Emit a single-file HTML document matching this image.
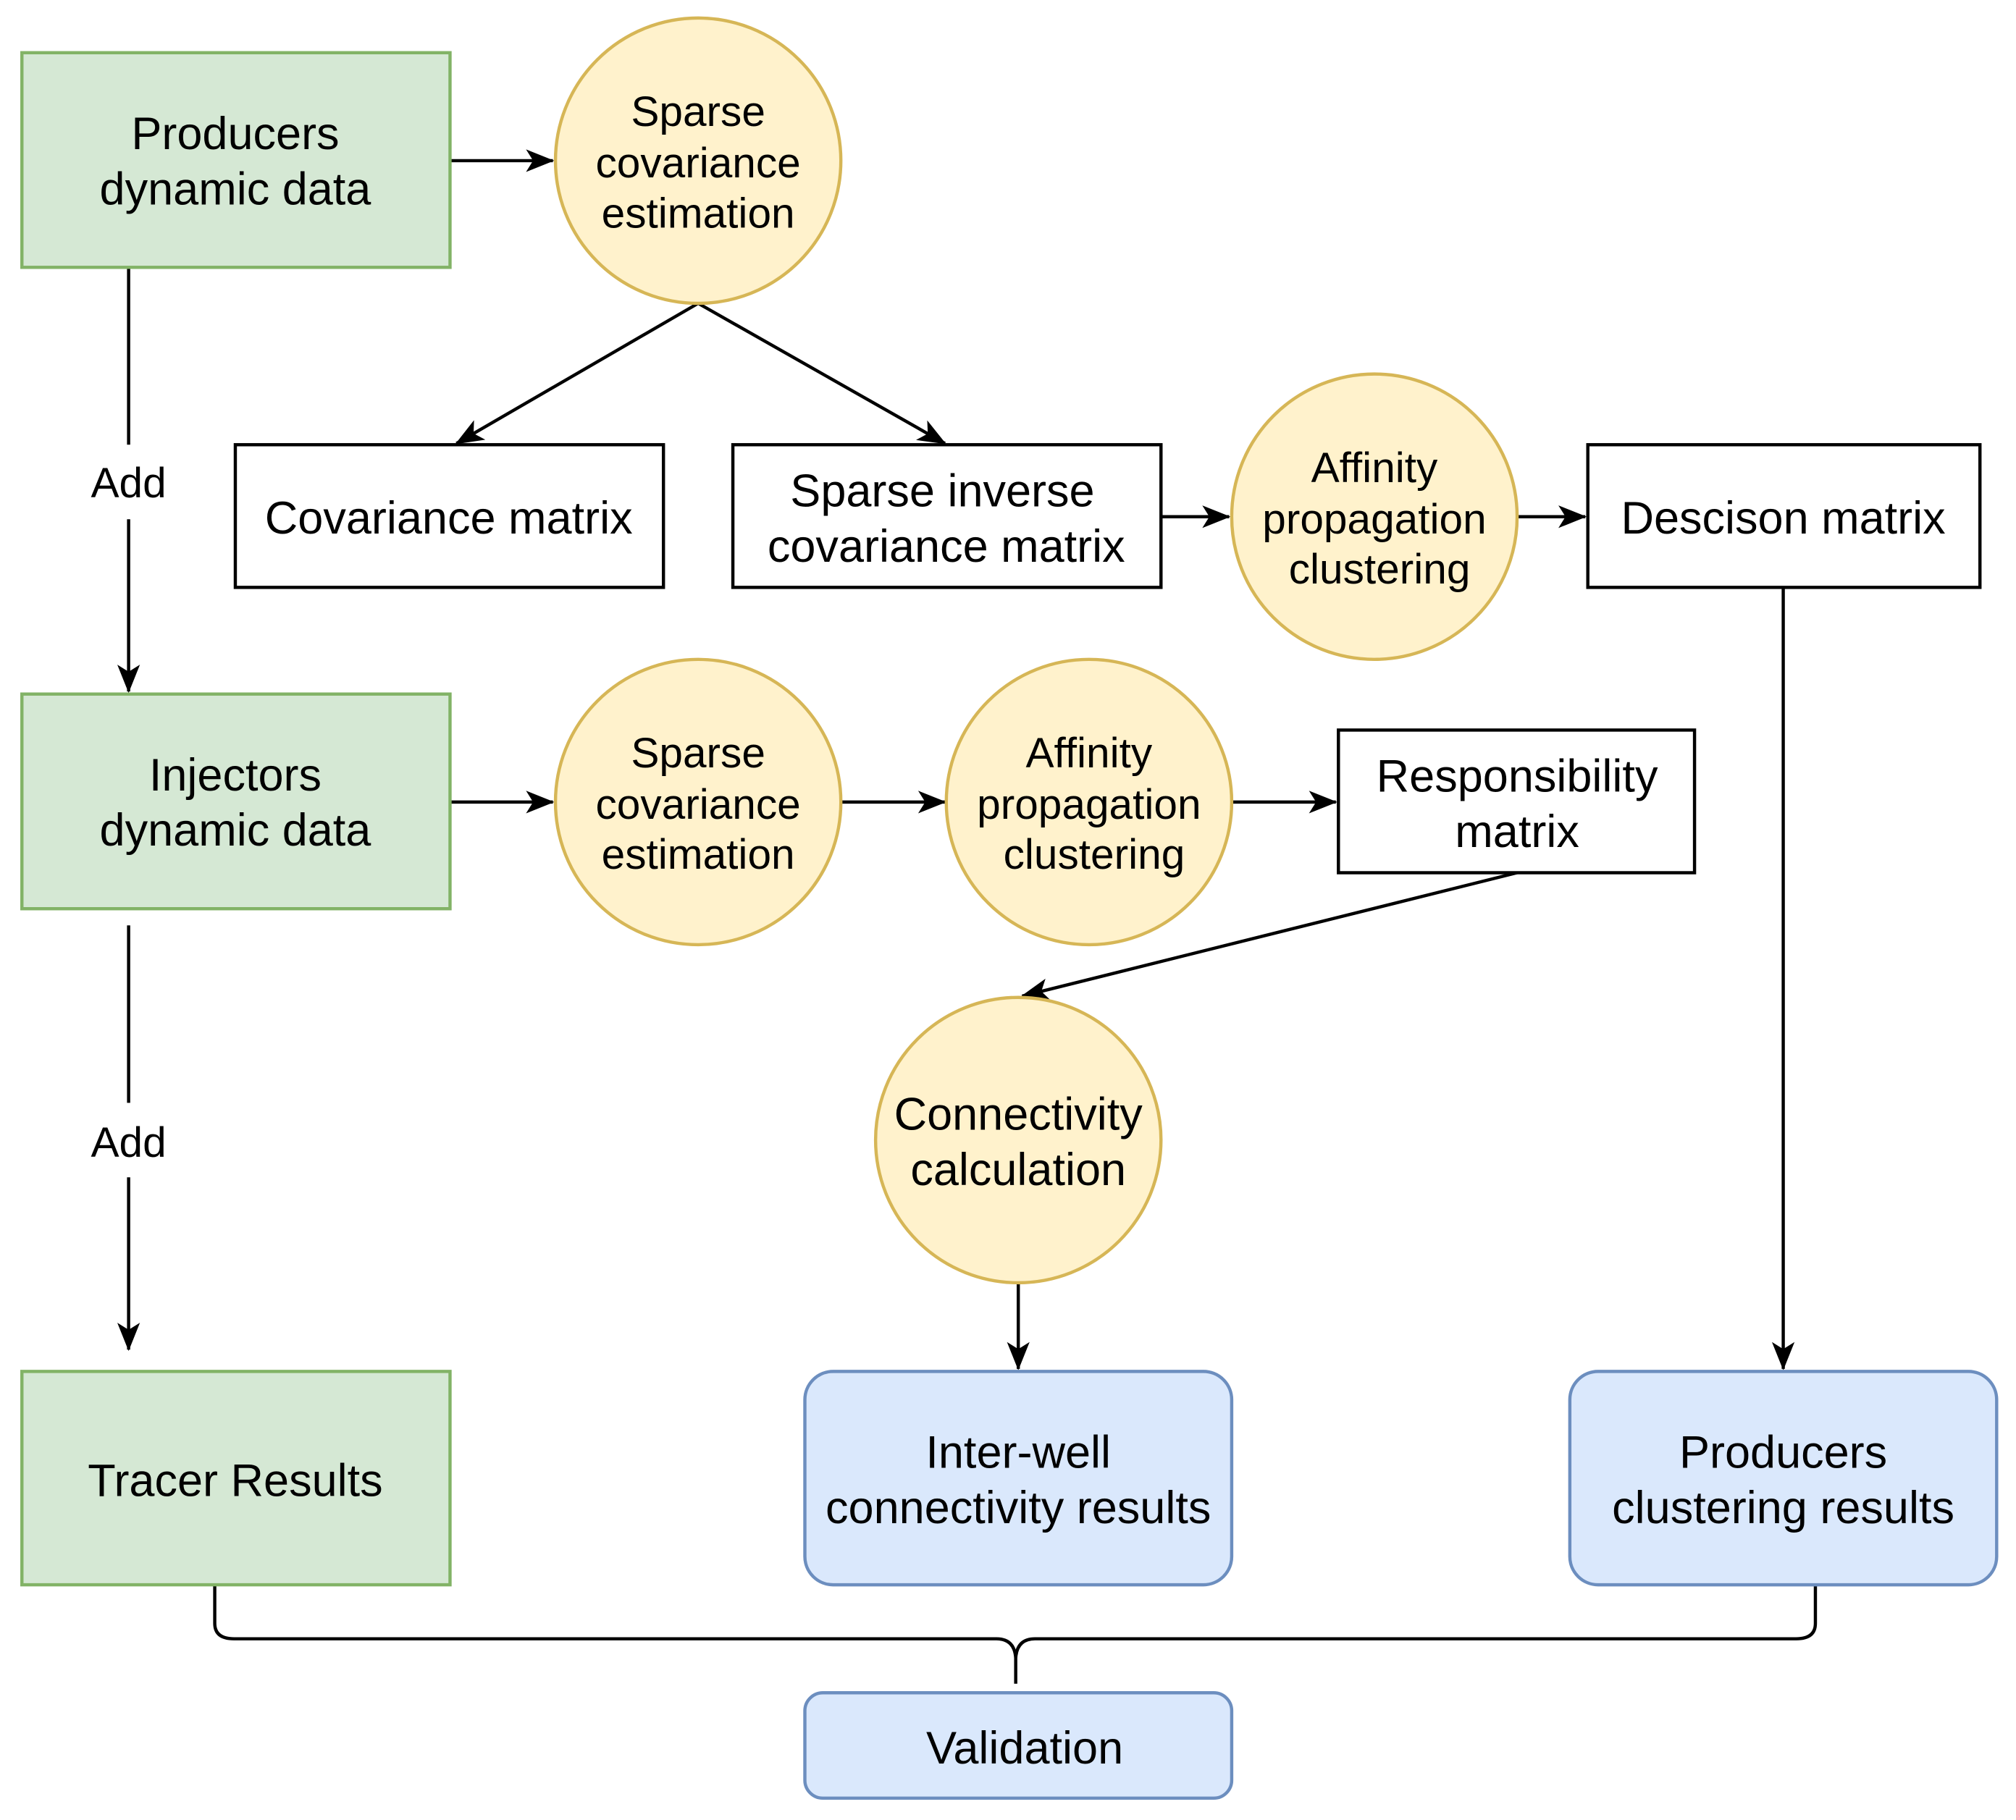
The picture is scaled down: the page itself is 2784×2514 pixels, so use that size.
<!DOCTYPE html>
<html><head><meta charset="utf-8"><style>
html,body{margin:0;padding:0;background:#fff;}
svg{display:block;}
text{font-family:"Liberation Sans",Arial,sans-serif;fill:#000;text-anchor:middle;}
</style></head><body>
<svg width="2784" height="2514" viewBox="0 0 1568 1416" xmlns="http://www.w3.org/2000/svg">
<defs>
<marker id="a" viewBox="0 0 20 16" refX="19" refY="8" markerWidth="22" markerHeight="18" markerUnits="userSpaceOnUse" orient="auto">
<path d="M0,0 L20,8 L0,16 L5,8 Z" fill="#000"/>
</marker>
</defs>
<g stroke="#000" stroke-width="2.5" fill="none">
<line x1="350" y1="125" x2="430" y2="125" marker-end="url(#a)"/>
<line x1="543" y1="236" x2="355" y2="345" marker-end="url(#a)"/>
<line x1="543" y1="236" x2="735" y2="345" marker-end="url(#a)"/>
<line x1="903" y1="402" x2="956" y2="402" marker-end="url(#a)"/>
<line x1="1180" y1="402" x2="1233" y2="402" marker-end="url(#a)"/>
<line x1="1387" y1="457" x2="1387" y2="1065" marker-end="url(#a)"/>
<line x1="100" y1="208" x2="100" y2="346"/>
<line x1="100" y1="404" x2="100" y2="538" marker-end="url(#a)"/>
<line x1="350" y1="624" x2="430" y2="624" marker-end="url(#a)"/>
<line x1="654" y1="624" x2="735" y2="624" marker-end="url(#a)"/>
<line x1="958" y1="624" x2="1039" y2="624" marker-end="url(#a)"/>
<line x1="1180" y1="679" x2="795" y2="775" marker-end="url(#a)"/>
<line x1="792" y1="998" x2="792" y2="1065" marker-end="url(#a)"/>
<line x1="100" y1="720" x2="100" y2="858"/>
<line x1="100" y1="916" x2="100" y2="1050" marker-end="url(#a)"/>
<path d="M167,1233 V1263 Q167,1275 182,1275 H775 Q789,1275 790,1290 V1310 M790,1290 Q791,1275 805,1275 H1397 Q1412,1275 1412,1263 V1233"/>
</g>
<g stroke-width="2.5">
<rect x="17" y="41" width="333" height="167" fill="#d5e8d4" stroke="#82b366"/>
<rect x="17" y="540" width="333" height="167" fill="#d5e8d4" stroke="#82b366"/>
<rect x="17" y="1067" width="333" height="166" fill="#d5e8d4" stroke="#82b366"/>
<circle cx="543" cy="125" r="111" fill="#fff2cc" stroke="#d6b656"/>
<circle cx="1069" cy="402" r="111" fill="#fff2cc" stroke="#d6b656"/>
<circle cx="543" cy="624" r="111" fill="#fff2cc" stroke="#d6b656"/>
<circle cx="847" cy="624" r="111" fill="#fff2cc" stroke="#d6b656"/>
<circle cx="792" cy="887" r="111" fill="#fff2cc" stroke="#d6b656"/>
<rect x="183" y="346" width="333" height="111" fill="#fff" stroke="#000"/>
<rect x="570" y="346" width="333" height="111" fill="#fff" stroke="#000"/>
<rect x="1235" y="346" width="305" height="111" fill="#fff" stroke="#000"/>
<rect x="1041" y="568" width="277" height="111" fill="#fff" stroke="#000"/>
<rect x="626" y="1067" width="332" height="166" rx="22" fill="#dae8fc" stroke="#6c8ebf"/>
<rect x="1221" y="1067" width="332" height="166" rx="22" fill="#dae8fc" stroke="#6c8ebf"/>
<rect x="626" y="1317" width="332" height="82" rx="14" fill="#dae8fc" stroke="#6c8ebf"/>
</g>
<g font-size="35.5">
<text x="183" y="116">Producers</text><text x="183" y="159">dynamic data</text>
<text x="349" y="415">Covariance matrix</text>
<text x="733" y="394">Sparse inverse</text><text x="736" y="437">covariance matrix</text>
<text x="1387" y="415">Descison matrix</text>
<text x="183" y="615">Injectors</text><text x="183" y="658">dynamic data</text>
<text x="1180" y="616">Responsibility</text><text x="1180" y="659">matrix</text>
<text x="792" y="879">Connectivity</text><text x="792" y="922">calculation</text>
<text x="183" y="1164">Tracer Results</text>
<text x="792" y="1142">Inter-well</text><text x="792" y="1185">connectivity results</text>
<text x="1387" y="1142">Producers</text><text x="1387" y="1185">clustering results</text>
<text x="797" y="1372">Validation</text>
</g>
<g font-size="33">
<text x="543" y="98">Sparse</text><text x="543" y="138">covariance</text><text x="543" y="177">estimation</text>
<text x="1069" y="375">Affinity</text><text x="1069" y="415">propagation</text><text x="1073" y="454">clustering</text>
<text x="543" y="597">Sparse</text><text x="543" y="637">covariance</text><text x="543" y="676">estimation</text>
<text x="847" y="597">Affinity</text><text x="847" y="637">propagation</text><text x="851" y="676">clustering</text>
<text x="100" y="387">Add</text><text x="100" y="900">Add</text>
</g>
</svg>
</body></html>
